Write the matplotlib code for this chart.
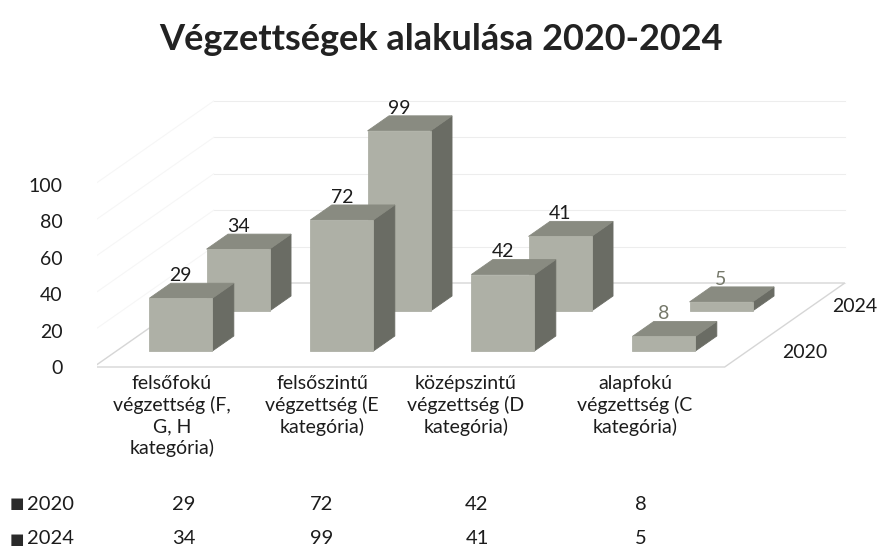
import matplotlib
matplotlib.use("Agg")
import matplotlib.pyplot as plt
from matplotlib.patches import Polygon

# ---------------- data ----------------
title = "Végzettségek alakulása 2020-2024"
categories = [
    "felsőfokú\nvégzettség (F,\nG, H\nkategória)",
    "felsőszintű\nvégzettség (E\nkategória)",
    "középszintű\nvégzettség (D\nkategória)",
    "alapfokú\nvégzettség (C\nkategória)",
]
series_names = ["2020", "2024"]
values_2020 = [29, 72, 42, 8]
values_2024 = [34, 99, 41, 5]
yticks = [0, 20, 40, 60, 80, 100]

# ---------------- layout / style ----------------
W, H = 883, 551
FONT = ["Lato", "DejaVu Sans"]
PX_CAT = 161.0      # px per category step
PX_VAL = 1.82       # px per value unit
X0PX, Y0PX = 158, 367
SLANT = 1.43        # horizontal px per vertical px of depth
ROW_FRONT = [16, 56]    # depth (px) of each row's front face
BAR_DEPTH = 15
BACK = 84
BAR_W = 63 / PX_CAT
FLOOR_L, FLOOR_R = -0.40, 3.52

FRONT_C, TOP_C, SIDE_C = "#aeb0a6", "#898b81", "#6a6c64"
TEXT_C = "#1c1c1c"
GRID_C = "#ededed"

fig = plt.figure(figsize=(W / 100, H / 100), dpi=100)
fig.patch.set_facecolor("white")
AXL, AXR, AXT, AXB = 97, 883, 95, 380
ax = fig.add_axes([AXL / W, 1 - AXB / H, (AXR - AXL) / W, (AXB - AXT) / H])
ax.set_xlim((AXL - X0PX) / PX_CAT, (AXR - X0PX) / PX_CAT)
ax.set_ylim((Y0PX - AXB) / PX_VAL, (Y0PX - AXT) / PX_VAL)
for s in ax.spines.values():
    s.set_visible(False)
ax.set_xticks([])
ax.set_yticks(yticks)
ax.set_yticklabels([str(t) for t in yticks], fontsize=14, color=TEXT_C, family=FONT)
ax.tick_params(axis="y", length=0, pad=25)


def P(x, d, v):
    return (x + d * SLANT / PX_CAT, v + d / PX_VAL)


# walls / floor gridlines
for t in yticks:
    a, b = P(FLOOR_L, BACK, t), P(FLOOR_R, BACK, t)
    ax.plot([a[0], b[0]], [a[1], b[1]], color=GRID_C, lw=0.8, zorder=1)
    c = P(FLOOR_L, 0, t)
    ax.plot([c[0], a[0]], [c[1], a[1]], color="#f6f6f6", lw=0.8, zorder=1)
floor = [P(FLOOR_L, 0, 0), P(FLOOR_R, 0, 0), P(FLOOR_R, BACK, 0), P(FLOOR_L, BACK, 0)]
ax.add_patch(Polygon(floor, closed=True, facecolor="white", edgecolor="#d6d6d6", lw=1.0, zorder=1))


def draw_bar(i, r, v):
    x0, x1 = i - BAR_W / 2, i + BAR_W / 2
    df = ROW_FRONT[r]
    db = df + BAR_DEPTH
    z = 3 if r == 0 else 2
    side = [P(x1, df, 0), P(x1, db, 0), P(x1, db, v), P(x1, df, v)]
    top = [P(x0, df, v), P(x1, df, v), P(x1, db, v), P(x0, db, v)]
    front = [P(x0, df, 0), P(x1, df, 0), P(x1, df, v), P(x0, df, v)]
    for poly, col in ((side, SIDE_C), (top, TOP_C), (front, FRONT_C)):
        ax.add_patch(Polygon(poly, closed=True, facecolor=col, edgecolor=col, lw=0.6, zorder=z))
    lx = P(i, df, v)[0]
    ly = P(i, db, v)[1]
    col = TEXT_C if v >= 10 else "#76796b"
    ax.text(lx, ly - 0.5, str(v), ha="center", va="bottom", fontsize=14,
            color=col, family=FONT, zorder=5)


all_vals = [values_2020, values_2024]
for r in (1, 0):
    for i, v in enumerate(all_vals[r]):
        draw_bar(i, r, v)

# series (depth) labels
series_label_px = [(805, 352), (855, 307)]
for (px, py), name in zip(series_label_px, series_names):
    fig.text(px / W, 1 - py / H, name, ha="center", va="center",
             fontsize=14, color=TEXT_C, family=FONT)

# title
fig.text(441 / W, 1 - 40 / H, title, ha="center", va="center",
         fontsize=26, fontweight="bold", color="#222222", family=FONT)

# category labels
label_x = [172, 322, 466, 635]
for x, lab in zip(label_x, categories):
    fig.text(x / W, 1 - 375 / H, lab, ha="center", va="top", fontsize=14,
             color=TEXT_C, family=FONT, linespacing=1.27)

# data table
val_x = [184, 322, 477, 641]
row_y = [504, 539]
for r, (name, vals) in enumerate(zip(series_names, all_vals)):
    fig.text(10 / W, 1 - row_y[r] / H, "■", ha="left", va="center", fontsize=11,
             color="#2a2a2a", family="DejaVu Sans")
    fig.text(27 / W, 1 - row_y[r] / H, name, ha="left", va="center", fontsize=14.5,
             color=TEXT_C, family=FONT)
    for x, v in zip(val_x, vals):
        fig.text(x / W, 1 - row_y[r] / H, str(v), ha="center", va="center",
                 fontsize=14.5, color=TEXT_C, family=FONT)

fig.savefig("out.png", dpi=100, facecolor="white")
